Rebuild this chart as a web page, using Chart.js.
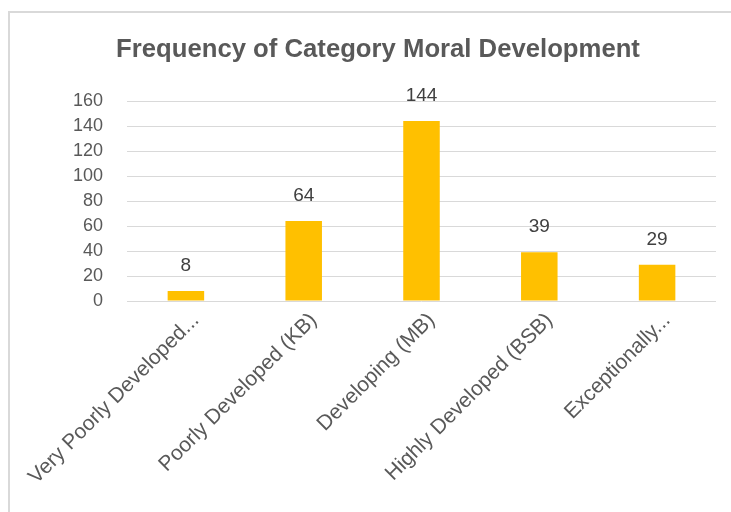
<!DOCTYPE html>
<html>
<head>
<meta charset="utf-8">
<script src="https://cdn.jsdelivr.net/npm/chart.js@4"></script>
<style>
  html, body { margin: 0; padding: 0; background: #fff; }
  .frame {
    position: absolute; left: 8px; top: 11px; width: 760px; height: 540px;
    border: 2px solid #d9d9d9; box-sizing: border-box;
  }
  .wrap { position: absolute; left: 0; top: 0; width: 731px; height: 512px; }
</style>
</head>
<body>
<div class="frame"></div>
<div class="wrap"><canvas class="freq-chart" width="731" height="512"></canvas></div>
<script>
const categories = [
  "Very Poorly Developed...",
  "Poorly Developed (KB)",
  "Developing (MB)",
  "Highly Developed (BSB)",
  "Exceptionally...",
];
const frequencies = [8, 64, 144, 39, 29];
const yTicks = [0, 20, 40, 60, 80, 100, 120, 140, 160];
const chartTitle = "Frequency of Category Moral Development";

document.addEventListener("DOMContentLoaded", () => {
  let ctx = document.querySelector(".freq-chart").getContext("2d");
  const gray = "#595959";
  const fontFamily = "'Liberation Sans', Arial, sans-serif";

  // title, value labels and rotated category labels
  const extraText = {
    id: "extraText",
    afterDatasetsDraw(chart) {
      const c = chart.ctx;
      const meta = chart.getDatasetMeta(0);
      const xScale = chart.scales.x;
      c.save();

      c.font = "bold 25.7px " + fontFamily;
      c.fillStyle = gray;
      c.textAlign = "center";
      c.textBaseline = "middle";
      c.fillText(chartTitle, 378, 50);

      c.font = "19px " + fontFamily;
      c.fillStyle = "#404040";
      meta.data.forEach((bar, i) => {
        c.fillText(String(frequencies[i]), bar.x, bar.y - 25);
      });

      c.font = "21px " + fontFamily;
      c.fillStyle = gray;
      c.textAlign = "right";
      categories.forEach((label, i) => {
        const x = xScale.getPixelForTick(i) + 10;
        const y = xScale.top + 16;
        c.save();
        c.translate(x, y);
        c.rotate(-Math.PI / 4);
        c.fillText(label, 0, 0);
        c.restore();
      });
      c.restore();
    },
  };

  const config = {
    type: "bar",
    data: {
      labels: categories,
      datasets: [
        {
          data: frequencies,
          backgroundColor: "#ffc000",
          categoryPercentage: 1,
          barPercentage: 0.31,
        },
      ],
    },
    options: {
      responsive: false,
      animation: false,
      layout: { padding: { left: 0, right: 15, top: 101, bottom: 0 } },
      plugins: {
        legend: { display: false },
        tooltip: { enabled: false },
        title: { display: false },
      },
      scales: {
        y: {
          min: 0,
          max: 160,
          afterBuildTicks: (scale) => {
            scale.ticks = yTicks.map((v) => ({ value: v }));
          },
          afterFit: (scale) => {
            scale.width = 127;
          },
          border: { display: false },
          grid: { color: "#d9d9d9", drawTicks: false },
          ticks: {
            color: gray,
            padding: 24,
            font: { family: fontFamily, size: 18 },
          },
        },
        x: {
          afterFit: (scale) => {
            scale.height = 211;
          },
          border: { display: false },
          grid: { display: false },
          ticks: { display: false },
        },
      },
    },
    plugins: [extraText],
  };

  new Chart(ctx, config);
});
</script>
</body>
</html>
